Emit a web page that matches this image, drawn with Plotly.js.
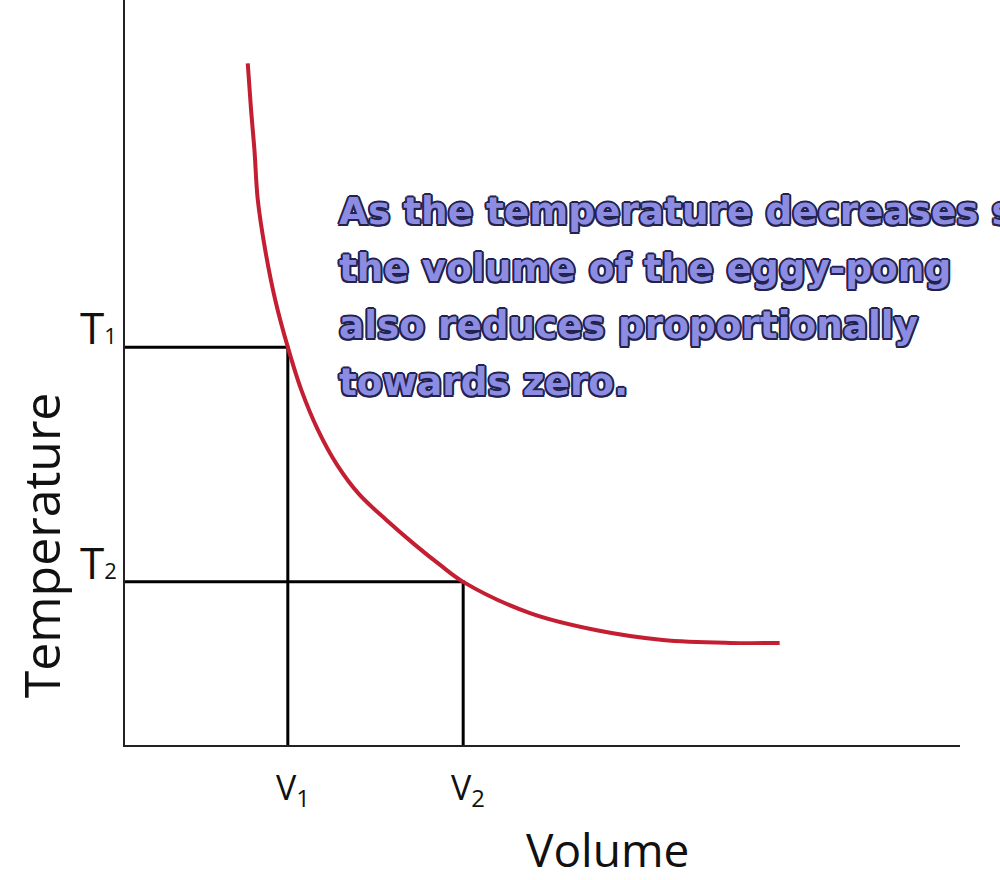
<!DOCTYPE html>
<html>
<head>
<meta charset="utf-8">
<script src="https://cdn.plot.ly/plotly-3.0.1.min.js"></script>
<style>
  html, body { margin: 0; padding: 0; background: #fff; }
  #chart { width: 1000px; height: 880px; }
</style>
</head>
<body>
<div id="chart"></div>
<script>
// curve (volume vs temperature, arbitrary units 0..10)
var volume = [1.47, 1.51, 1.55, 1.59, 1.68, 1.80, 1.95, 2.11, 2.31, 2.54, 2.80, 3.13, 3.47, 3.77,
              4.05, 4.85, 5.65, 6.44, 7.25, 7.84];
var temperature = [9.15, 8.52, 7.99, 7.32, 6.64, 5.97, 5.34, 4.77, 4.23, 3.76, 3.37, 3.02, 2.69, 2.42,
                   2.19, 1.77, 1.54, 1.41, 1.37, 1.37];

// the two marked states
var markV = [1.95, 4.05];
var markT = [5.34, 2.19];
var markVLabels = ['V<sub>1</sub>', 'V<sub>2</sub>'];
var markTLabels = ['1', '2'];

var noteLines = ['As the temperature decreases so', 'the volume of the eggy-pong',
                 'also reduces proportionally', 'towards zero.'];

var traces = [];

// guide lines from the axes to each state
for (var i = 0; i < markV.length; i++) {
  traces.push({
    x: [0, markV[i], markV[i]],
    y: [markT[i], markT[i], 0],
    mode: 'lines',
    line: {color: '#000', width: 3},
    hoverinfo: 'skip'
  });
}

traces.push({
  x: volume,
  y: temperature,
  mode: 'lines',
  line: {color: '#c41e32', width: 4, shape: 'spline', smoothing: 1},
  hoverinfo: 'skip'
});

var annotations = [];
for (var j = 0; j < markV.length; j++) {
  annotations.push({
    x: markV[j], y: 0, xref: 'x', yref: 'y',
    xanchor: 'left', yanchor: 'top', xshift: -14, yshift: -17,
    text: markVLabels[j], showarrow: false,
    font: {family: 'Open Sans', size: 34, color: '#111'}
  });
  annotations.push({
    x: 0, y: markT[j], xref: 'paper', yref: 'y',
    xanchor: 'right', yanchor: 'bottom', xshift: -6, yshift: -12,
    text: 'T<span style="font-size:22px">' + markTLabels[j] + '</span>',
    showarrow: false,
    font: {family: 'Open Sans', size: 44, color: '#111'}
  });
}

annotations.push({
  x: 0, y: 0.268, xref: 'paper', yref: 'paper',
  xanchor: 'center', yanchor: 'middle',
  xshift: -84, textangle: -90, showarrow: false,
  text: 'Temperature',
  font: {family: 'Open Sans', size: 50, color: '#111'}
});
annotations.push({
  x: 0.578, y: 0, xref: 'paper', yref: 'paper',
  xanchor: 'center', yanchor: 'middle', yshift: -104, showarrow: false,
  text: 'Volume',
  font: {family: 'Open Sans', size: 46, color: '#111'}
});

// the note, one line per annotation to keep the wide line spacing
var outline = '#22224c';
for (var k = 0; k < noteLines.length; k++) {
  annotations.push({
    x: 2.54, y: 7.17 - k * 0.765, xref: 'x', yref: 'y',
    xanchor: 'left', yanchor: 'middle', align: 'left', showarrow: false,
    text: noteLines[k],
    font: {
      family: 'DejaVu Sans', size: 37.4, weight: 'bold', color: '#8c8ce2',
      shadow: '2px 0 0 ' + outline + ', -2px 0 0 ' + outline + ', 0 2px 0 ' + outline +
              ', 0 -2px 0 ' + outline + ', 1.5px 1.5px 0 ' + outline + ', -1.5px -1.5px 0 ' + outline +
              ', 1.5px -1.5px 0 ' + outline + ', -1.5px 1.5px 0 ' + outline
    }
  });
}

var layout = {
  width: 1000,
  height: 880,
  margin: {l: 125, r: 40, t: 0, b: 135},
  paper_bgcolor: '#fff',
  plot_bgcolor: '#fff',
  showlegend: false,
  xaxis: {
    range: [0, 10], showgrid: false, zeroline: false,
    showticklabels: false, ticks: '',
    showline: true, linecolor: '#222', linewidth: 2
  },
  yaxis: {
    range: [0, 10], showgrid: false, zeroline: false,
    showticklabels: false, ticks: '',
    showline: true, linecolor: '#222', linewidth: 2
  },
  annotations: annotations
};

Plotly.newPlot('chart', traces, layout, {displayModeBar: false, staticPlot: true});
</script>
</body>
</html>
